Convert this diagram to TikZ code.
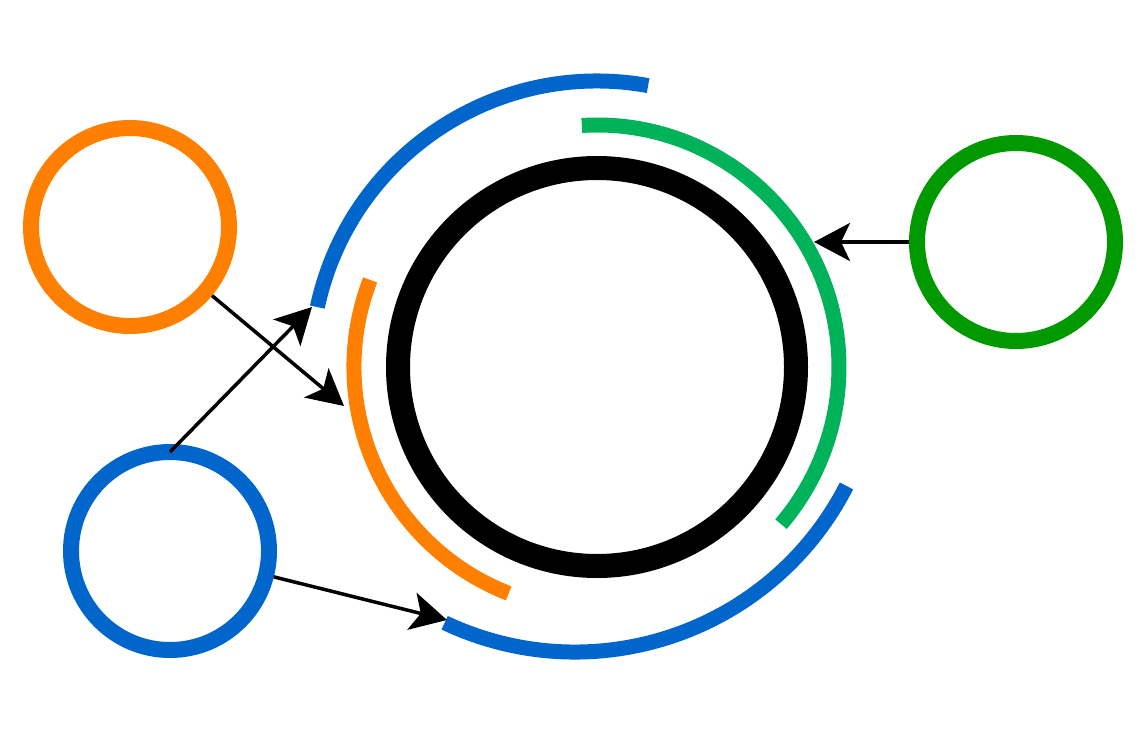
\documentclass[tikz,border=0pt]{standalone}
\usetikzlibrary{arrows.meta}
\definecolor{cblue}{HTML}{0066CC}
\definecolor{corange}{HTML}{FF8000}
\definecolor{cgreenarc}{HTML}{00B25A}
\definecolor{cgreen}{HTML}{009900}
\tikzset{
  ring/.style={circle, draw=#1, line width=16pt, minimum size=198pt, inner sep=0pt},
  band/.style={draw=#1, line width=15pt, line cap=butt},
  link/.style={draw=black, line width=3.5pt, -{Stealth[length=36pt, width=38pt, inset=9pt]}}
}
\begin{document}
\begin{tikzpicture}[x=1pt, y=-1pt]
\useasboundingbox (0,0) rectangle (1144,736);
% central ring
\node[circle, draw=black, line width=24pt, minimum size=398pt, inner sep=0pt] (core) at (597,367) {};
% arcs around the core
\draw[band=cblue] (core.center) ++(-167.9:286) arc[start angle=-167.9, end angle=-79.7, radius=286];
\draw[band=cgreenarc] (core.center) ++(-93.6:242) arc[start angle=-93.6, end angle=40.5, radius=242];
\draw[band=corange] (core.center) ++(-159:243) arc[start angle=-159, end angle=-248.7, radius=243];
\draw[band=cblue] (575,347) ++(115.3:305) arc[start angle=115.3, end angle=27.1, radius=305];
% outer rings
\node[ring=corange] (orange) at (130,227) {};
\node[ring=cblue] (blue) at (170,551) {};
\node[ring=cgreen] (green) at (1016,242) {};
% arrow end points
\coordinate (bt) at (170,452);
\coordinate (t1) at (344,406);
\coordinate (t2) at (312,307);
\coordinate (t3) at (447,620);
\coordinate (t4) at (814,242);
% connectors
\draw[link] (orange) -- (t1);
\draw[link] (bt) -- (t2);
\draw[link] (blue) -- (t3);
\draw[link] (green) -- (t4);
\end{tikzpicture}
\end{document}
